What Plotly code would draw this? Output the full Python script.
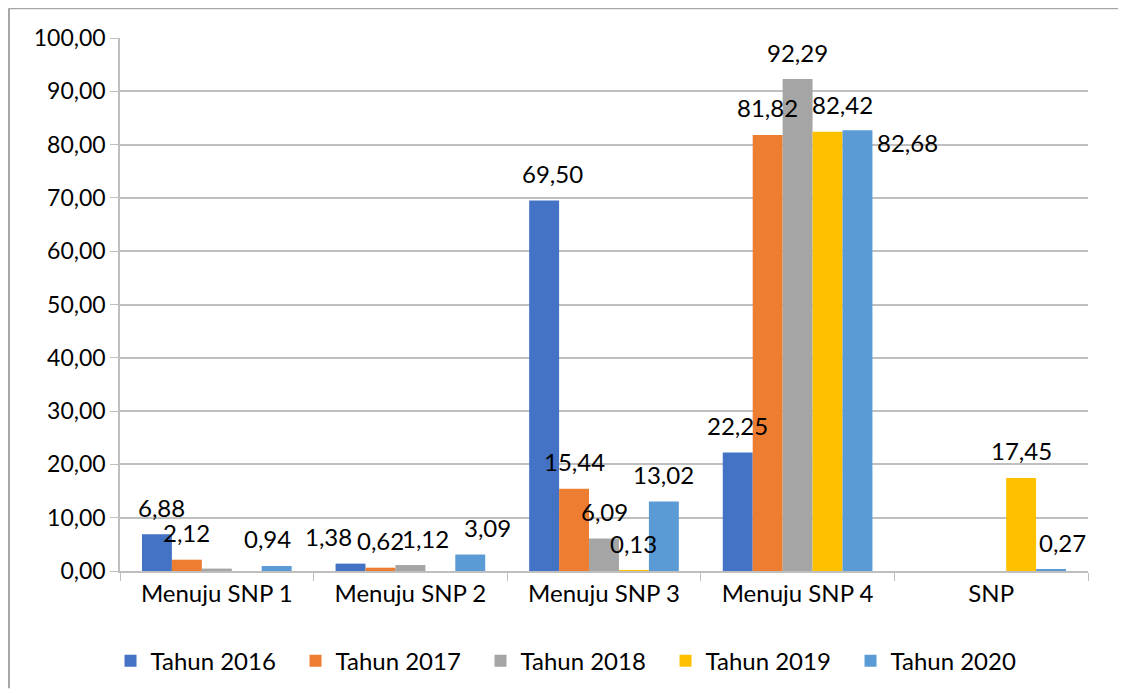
import plotly.graph_objects as go

categories = ["Menuju SNP 1", "Menuju SNP 2", "Menuju SNP 3", "Menuju SNP 4", "SNP"]
series_names = ["Tahun 2016", "Tahun 2017", "Tahun 2018", "Tahun 2019", "Tahun 2020"]
tahun_2016 = [6.88, 1.38, 69.50, 22.25, None]
tahun_2017 = [2.12, 0.62, 15.44, 81.82, None]
tahun_2018 = [0.45, 1.12, 6.09, 92.29, None]
tahun_2019 = [None, None, 0.13, 82.42, 17.45]
tahun_2020 = [0.94, 3.09, 13.02, 82.68, 0.27]
all_series = [tahun_2016, tahun_2017, tahun_2018, tahun_2019, tahun_2020]
colors = ["#4472C4", "#ED7D31", "#A5A5A5", "#FFC000", "#5B9BD5"]

# label tweaks (series index, category index) -> (dx, dy) in px, like the manual placement in the original
label_shift = {
    (0, 0): (5, 0), (4, 0): (-9, 0),
    (0, 1): (-22, 0), (2, 1): (15, 0), (4, 1): (17, 0),
    (0, 2): (8, 0),
    (3, 3): (15, 0), (4, 3): (50, -39),
    (4, 4): (11, 0),
}
hidden_labels = {(2, 0)}

FONT = "Lato"
bargap = 0.227
plot_w = 968
bar_px = plot_w / len(categories) * (1 - bargap) / len(all_series)

fig = go.Figure()
for name, vals, col in zip(series_names, all_series, colors):
    fig.add_trace(go.Bar(x=categories, y=vals, name=name, marker_color=col, marker_line_width=0))

for i, vals in enumerate(all_series):
    for j, v in enumerate(vals):
        if v is None or (i, j) in hidden_labels:
            continue
        dx, dy = label_shift.get((i, j), (0, 0))
        fig.add_annotation(
            x=categories[j], y=v, text=f"{v:.2f}".replace(".", ","),
            showarrow=False, xshift=(i - 2) * bar_px + dx, yshift=27 + dy,
            yanchor="middle", font=dict(family=FONT, size=24, color="#000000"),
        )

# frame lines (top and left) of the original picture
fig.add_shape(type="line", xref="paper", yref="paper", x0=-0.1147, x1=1.1, y0=1.056, y1=1.056,
              line=dict(color="#a6a6a6", width=2))
fig.add_shape(type="line", xref="paper", yref="paper", x0=-0.1147, x1=-0.1147, y0=1.056, y1=-0.22,
              line=dict(color="#a6a6a6", width=2))

# the page adds an 8px body margin, so the margins below are offset by that
fig.update_layout(
    width=1126, height=693,
    margin=dict(l=112, r=46, t=30, b=130, autoexpand=False),
    paper_bgcolor="white", plot_bgcolor="white",
    separators=",.",
    barmode="group", bargap=bargap, bargroupgap=0,
    font=dict(family=FONT, size=24, color="#000000"),
    showlegend=True,
    legend=dict(orientation="h", x=0.468, xanchor="center", y=-0.169, yanchor="middle",
                font=dict(family=FONT, size=24), entrywidth=140, entrywidthmode="pixels",
                itemwidth=30),
)
fig.update_yaxes(range=[0, 100], dtick=10, tickformat=".2f", showgrid=True, gridcolor="#bfbfbf",
                 gridwidth=1.5, showline=True, linecolor="#bfbfbf", linewidth=1.5, ticks="outside",
                 ticklen=8, tickcolor="#bfbfbf", zeroline=False, tickfont=dict(size=23))
fig.update_xaxes(showline=True, linecolor="#bfbfbf", linewidth=1.5, ticks="outside", ticklen=8,
                 tickcolor="#bfbfbf", tickson="boundaries", showgrid=False)

fig.write_html("out.html")
